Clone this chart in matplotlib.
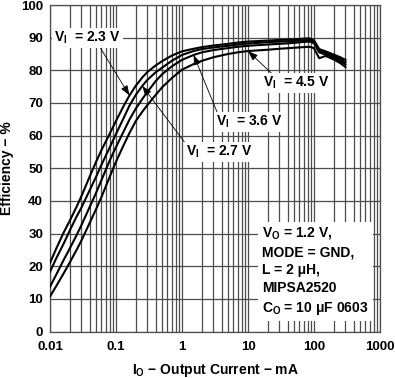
import numpy as np
import matplotlib
matplotlib.use("Agg")
import matplotlib.pyplot as plt
from matplotlib.ticker import FixedLocator, FixedFormatter, LogLocator, NullFormatter

plt.rcParams['font.family'] = ['Liberation Sans', 'DejaVu Sans']
plt.rcParams['font.weight'] = 'bold'
plt.rcParams['mathtext.fontset'] = 'custom'
plt.rcParams['mathtext.rm'] = 'Liberation Sans:bold'
plt.rcParams['mathtext.it'] = 'Liberation Sans:bold'
plt.rcParams['mathtext.bf'] = 'Liberation Sans:bold'

# Output current (mA)
current = [0.01, 0.0125, 0.016, 0.02, 0.025, 0.03, 0.04, 0.05, 0.06, 0.08, 0.1,
           0.13, 0.16, 0.2, 0.25, 0.3, 0.4, 0.5, 0.7, 1, 1.5, 2, 3, 5, 7, 10,
           20, 30, 50, 70, 85, 100, 120, 150, 200, 250, 300]

# Efficiency (%) per input voltage
eff_2v3 = [21, 25.5, 30.2, 34, 38, 41.5, 47.5, 52, 55.5, 60.5, 64.5,
           69, 72.3, 75.3, 77.8, 79.5, 81.5, 82.8, 84.5, 85.8, 86.6, 87.1, 87.6, 88.1, 88.5, 88.8,
           89.1, 89.3, 89.5, 89.7, 89.8, 89.2, 86.5, 85.8, 84.8, 84.0, 83.2]
eff_2v7 = [18.3, 22.5, 26.8, 31, 35, 38, 43.3, 47.4, 51, 56.3, 60.5,
           65.3, 69.2, 72.5, 75.2, 77.1, 79.4, 80.8, 82.9, 84.7, 85.9, 86.5, 87, 87.5, 87.9, 88.2,
           88.6, 88.8, 89.0, 89.2, 89.3, 88.8, 86.0, 85.3, 84.3, 83.4, 82.5]
eff_3v6 = [13.7, 17.5, 21.8, 25.5, 29.3, 32.6, 38.2, 42.5, 46.3, 52.3, 56.5,
           61.2, 64.9, 68.3, 71.2, 73.4, 76.7, 78.8, 81.2, 83.2, 84.7, 85.5, 86.2, 86.8, 87.2, 87.5,
           87.9, 88.1, 88.4, 88.7, 88.8, 88.3, 85.5, 84.8, 83.8, 82.8, 81.8]
eff_4v5 = [10.7, 14, 17.7, 21.2, 24.8, 27.9, 33.3, 37.5, 41.1, 47.3, 52,
           57, 60.8, 64.5, 67.3, 69.4, 72.5, 74.8, 77.6, 80.2, 81.9, 82.9, 84, 85, 85.5, 85.9,
           86.3, 86.6, 86.9, 87.1, 87.2, 86.8, 83.7, 84.4, 83.3, 82.2, 81.0]

x_ticks = [0.01, 0.1, 1, 10, 100, 1000]
x_tick_labels = ['0.01', '0.1', '1', '10', '100', '1000']
y_ticks = list(range(0, 101, 10))

fig = plt.figure(figsize=(3.95, 3.78), dpi=100)
ax = fig.add_axes([50/395, 1-331.5/378, 330/395, 326.5/378])

grid_c = '#4d4d4d'
for series in (eff_2v3, eff_2v7, eff_3v6, eff_4v5):
    ax.plot(current, series, color='black', lw=1.5, zorder=3, solid_joinstyle='round')

ax.set_xscale('log')
ax.set_xlim(0.01, 1000)
ax.set_ylim(0, 100)
ax.xaxis.set_major_locator(FixedLocator(x_ticks))
ax.xaxis.set_major_formatter(FixedFormatter(x_tick_labels))
ax.xaxis.set_minor_locator(LogLocator(base=10, subs=np.arange(2, 10)))
ax.xaxis.set_minor_formatter(NullFormatter())
ax.set_yticks(y_ticks)
ax.grid(True, which='major', color=grid_c, lw=0.9)
ax.grid(True, which='minor', axis='x', color=grid_c, lw=0.9)
ax.tick_params(which='both', length=0, labelsize=9.5)
ax.tick_params(axis='x', pad=7)
ax.tick_params(axis='y', pad=5)
for s in ax.spines.values():
    s.set_color(grid_c)
    s.set_linewidth(0.9)

ax.set_ylabel('Efficiency \u2212 %', fontsize=10, fontweight='bold', labelpad=5)
ax.set_xlabel('I$_\\mathrm{O}$ \u2212 Output Current \u2212 mA', fontsize=10, fontweight='bold', labelpad=6)

box = dict(boxstyle='square,pad=0.15', fc='white', ec='none')
arrow = dict(arrowstyle='-|>,head_length=0.6,head_width=0.22', color='black', lw=0.6,
             shrinkA=0, shrinkB=0)

labels = [
    ('V$_\\mathrm{I}$  = 2.3 V', (0.0115, 89.9), (0.057, 87.1), current.index(0.16), eff_2v3),
    ('V$_\\mathrm{I}$  = 2.7 V', (1.15, 55.0), (1.12, 57.7), current.index(0.25), eff_2v7),
    ('V$_\\mathrm{I}$  = 3.6 V', (3.3, 64.2), (3.4, 67.2), current.index(1.5), eff_3v6),
    ('V$_\\mathrm{I}$  = 4.5 V', (17.0, 76.1), (25.0, 78.3), current.index(10), eff_4v5),
]
for txt, tpos, tail, idx, series in labels:
    ax.annotate('', xy=(current[idx], series[idx]), xytext=tail, arrowprops=arrow, zorder=4)
    ax.text(tpos[0], tpos[1], txt, ha='left', va='center', fontsize=10, fontweight='bold',
            bbox=box, zorder=5)

info = ('V$_\\mathrm{O}$ = 1.2 V,\nMODE = GND,\nL = 2 \u03bcH,\nMIPSA2520\n'
        'C$_\\mathrm{O}$ = 10 \u03bcF 0603')
ax.text(16.3, 32.5, info, ha='left', va='top', fontsize=10, fontweight='bold',
        linespacing=1.36, bbox=dict(boxstyle='square,pad=0.3', fc='white', ec='none'), zorder=5)

fig.savefig('out.png', dpi=100)
